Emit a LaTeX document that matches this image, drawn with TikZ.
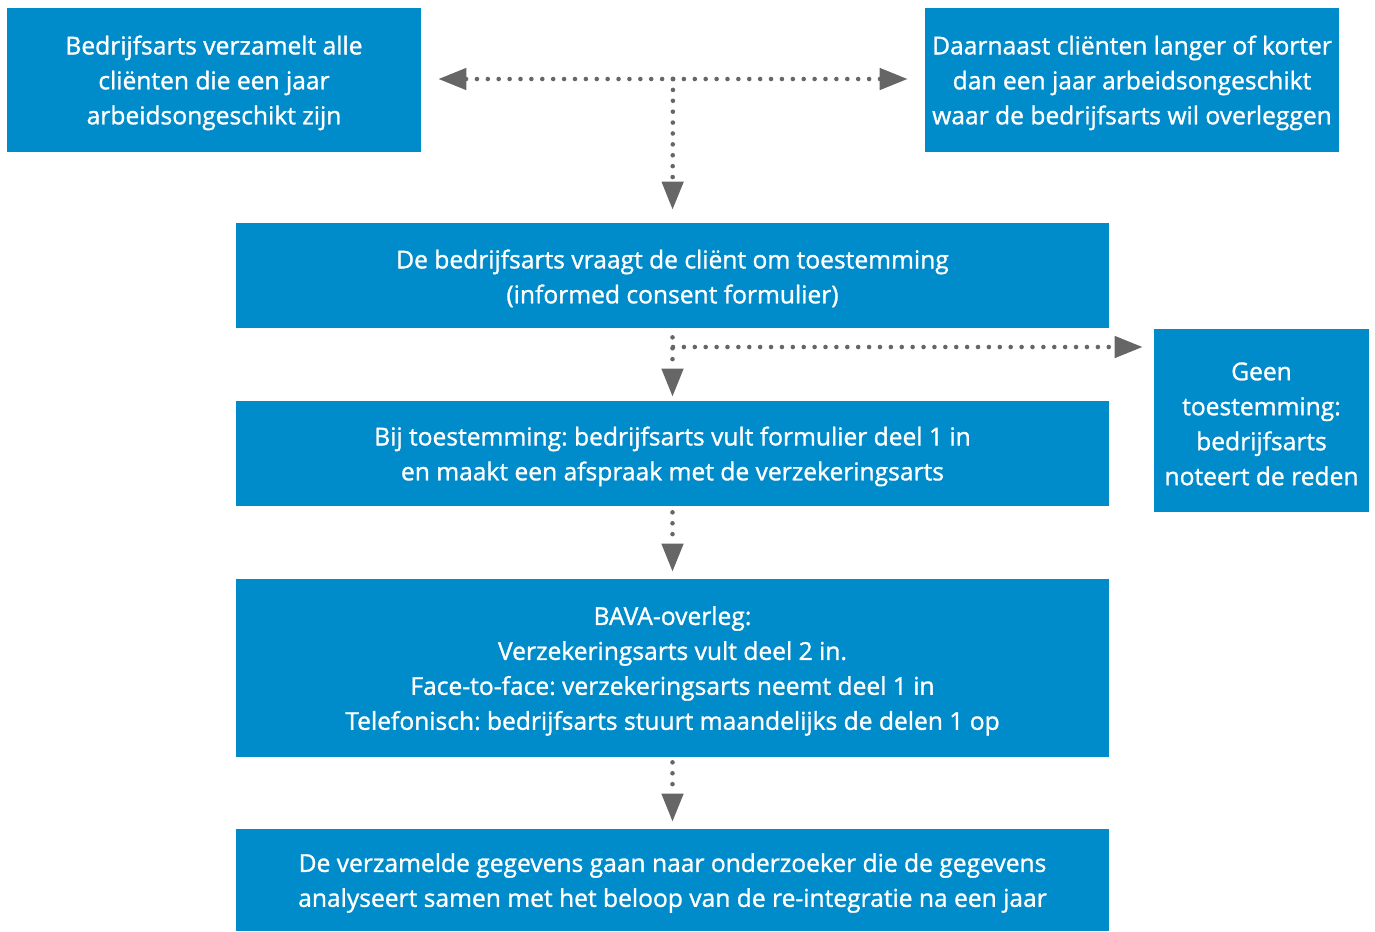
\documentclass[tikz,border=0pt]{standalone}
\usepackage{fontspec}
\IfFontExistsTF{Open Sans SemiBold}
  {\setmainfont{Open Sans SemiBold}}
  {\setmainfont{Open Sans}[FakeBold=1.2]}
\frenchspacing
\usetikzlibrary{arrows.meta}
\definecolor{boxblue}{HTML}{008BCB}
\definecolor{arrowgray}{HTML}{666666}
\newcommand\hoog{\rule{0pt}{1em}}
\begin{document}
\begin{tikzpicture}[x=0.02cm,y=-0.02cm,
  stapbox/.style={fill=boxblue,text=white,align=center,inner sep=0pt,
    font=\fontsize{14}{19.9}\selectfont},
  flow/.style={draw=arrowgray,line width=2.6pt,line cap=round,
    dash pattern=on 0pt off 6.2pt,
    -{Triangle[length=0.56cm,width=0.42cm,fill=arrowgray]}}]
\useasboundingbox (0,0) rectangle (1375,931);
% vakken
\node[stapbox,minimum width=8.28cm,minimum height=2.88cm] (alle) at (214,80)
  {\hoog Bedrijfsarts verzamelt alle\\cliënten die een jaar\\arbeidsongeschikt zijn};
\node[stapbox,minimum width=8.28cm,minimum height=2.88cm] (overig) at (1132,80)
  {\hoog Daarnaast cliënten langer of korter\\dan een jaar arbeidsongeschikt\\waar de bedrijfsarts wil overleggen};
\node[stapbox,minimum width=17.46cm,minimum height=2.1cm] (vraag) at (672.5,275.5)
  {\hoog De bedrijfsarts vraagt de cliënt om toestemming\\(informed consent formulier)};
\node[stapbox,minimum width=4.3cm,minimum height=3.66cm] (geen) at (1261.5,420.5)
  {\hoog Geen\\toestemming:\\bedrijfsarts\\noteert de reden};
\node[stapbox,minimum width=17.46cm,minimum height=2.1cm] (deel) at (672.5,453.5)
  {\hoog Bij toestemming: bedrijfsarts vult formulier deel 1 in\\en maakt een afspraak met de verzekeringsarts};
\node[stapbox,minimum width=17.46cm,minimum height=3.56cm] (bava) at (672.5,668)
  {\hoog BAVA-overleg:\\Verzekeringsarts vult deel 2 in.\\Face-to-face: verzekeringsarts neemt deel 1 in\\Telefonisch: bedrijfsarts stuurt maandelijks de delen 1 op};
\node[stapbox,minimum width=17.46cm,minimum height=2.04cm] (analyse) at (672.5,880)
  {\hoog De verzamelde gegevens gaan naar onderzoeker die de gegevens\\analyseert samen met het beloop van de re-integratie na een jaar};
% pijlen
\coordinate (split) at (673,79);
\coordinate (tak) at (673,347);
\draw[flow,shorten >=0.34cm] (split) -- (alle.east |- split);
\draw[flow,shorten >=0.34cm] (split) -- (overig.west |- split);
\draw[flow,shorten >=0.26cm] (split) -- (vraag.north);
\draw[flow,shorten <=0.18cm,shorten >=0.08cm] (vraag.south) -- (deel.north);
\draw[flow,shorten >=0.22cm] (tak) -- (geen.west |- tak);
\draw[flow,shorten <=0.12cm,shorten >=0.14cm] (deel.south) -- (bava.north);
\draw[flow,shorten <=0.1cm,shorten >=0.14cm] (bava.south) -- (analyse.north);
\end{tikzpicture}
\end{document}
